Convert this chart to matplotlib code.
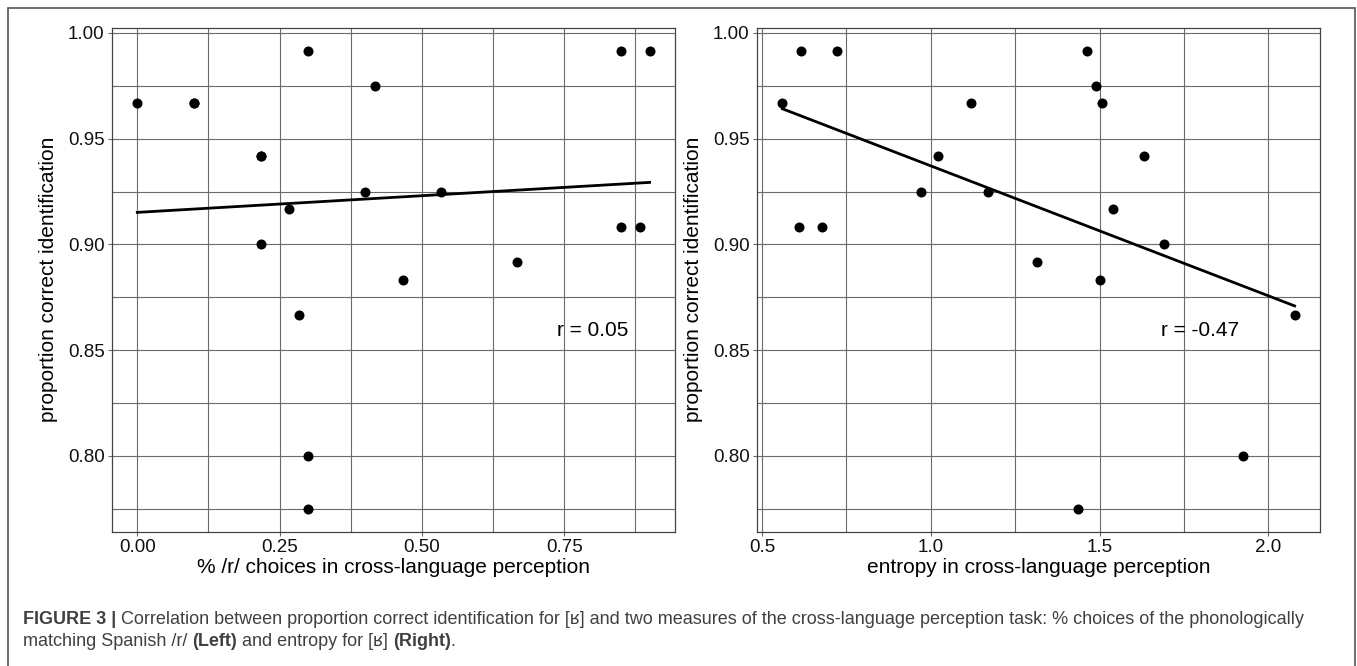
import numpy as np
import matplotlib
matplotlib.use('Agg')
import matplotlib.pyplot as plt
from matplotlib.ticker import MultipleLocator, FormatStrFormatter
from matplotlib.patches import Rectangle

plt.rcParams['font.family'] = ['Liberation Sans', 'DejaVu Sans']

# proportion correct identification vs % /r/ choices (left panel)
pct_r = [0.0, 0.1, 0.1, 0.2167, 0.2167, 0.2167, 0.2667, 0.2833, 0.3, 0.3,
         0.3, 0.4, 0.4167, 0.4667, 0.5333, 0.6667, 0.85, 0.9, 0.85, 0.8833]
correct_left = [0.9667, 0.9667, 0.9667, 0.9417, 0.9417, 0.9, 0.9167, 0.8667, 0.9917, 0.8,
                0.775, 0.925, 0.975, 0.8833, 0.925, 0.8917, 0.9917, 0.9917, 0.9083, 0.9083]

# proportion correct identification vs entropy (right panel)
entropy = [0.56, 0.614, 0.723, 0.609, 0.679, 0.97, 1.022, 1.12, 1.169, 1.314,
           1.436, 1.462, 1.489, 1.506, 1.501, 1.541, 1.632, 1.69, 1.925, 2.078]
correct_right = [0.9667, 0.9917, 0.9917, 0.9083, 0.9083, 0.925, 0.9417, 0.9667, 0.925, 0.8917,
                 0.775, 0.9917, 0.975, 0.9667, 0.8833, 0.9167, 0.9417, 0.9, 0.8, 0.8667]

r_labels = ["r = 0.05", "r = -0.47"]
r_pos = [(0.80, 0.8595), (1.797, 0.8595)]
x_titles = ["% /r/ choices in cross-language perception", "entropy in cross-language perception"]
y_title = "proportion correct identification"

GRID = '#6a6a6a'
TXT = '#111111'


def expand(vals, frac=0.05):
    lo, hi = min(vals), max(vals)
    pad = (hi - lo) * frac
    return lo - pad, hi + pad


fig = plt.figure(figsize=(13.57, 6.66), dpi=100)
fig.patch.set_facecolor('white')

ylim = expand(correct_left + correct_right)
panels = [
    ([0.0823, 0.2017, 0.4153, 0.7568], pct_r, correct_left, 0.25, 0.125, '%.2f'),
    ([0.5576, 0.2017, 0.4153, 0.7568], entropy, correct_right, 0.5, 0.25, '%.1f'),
]

for i, (rect, xs, ys, major, minor, fmt) in enumerate(panels):
    ax = fig.add_axes(rect)
    ax.scatter(xs, ys, s=52, color='black', zorder=3, linewidths=0)

    coef = np.polyfit(xs, ys, 1)
    xl = np.array([min(xs), max(xs)])
    ax.plot(xl, np.polyval(coef, xl), color='black', lw=2.0, zorder=4)

    ax.set_xlim(*expand(xs))
    ax.set_ylim(*ylim)
    ax.xaxis.set_major_locator(MultipleLocator(major))
    ax.xaxis.set_minor_locator(MultipleLocator(minor))
    ax.yaxis.set_major_locator(MultipleLocator(0.05))
    ax.yaxis.set_minor_locator(MultipleLocator(0.025))
    ax.xaxis.set_major_formatter(FormatStrFormatter(fmt))
    ax.yaxis.set_major_formatter(FormatStrFormatter('%.2f'))

    ax.grid(which='both', color=GRID, lw=0.8, zorder=0)
    ax.set_axisbelow(True)
    ax.tick_params(which='major', length=3, width=0.8, color=GRID,
                   labelsize=13.5, labelcolor=TXT, pad=2)
    ax.tick_params(which='minor', length=0)
    for sp in ax.spines.values():
        sp.set_color('#444444')
        sp.set_linewidth(0.9)

    ax.set_xlabel(x_titles[i], fontsize=15, color='black', labelpad=2)
    ax.set_ylabel(y_title, fontsize=15, color='black', labelpad=7)
    ax.text(r_pos[i][0], r_pos[i][1], r_labels[i], fontsize=15,
            ha='center', va='center', color='black')

# outer frame
fig.patches.append(Rectangle((8 / 1357, -0.02), 1347 / 1357, 1 - 8 / 666 + 0.02,
                             transform=fig.transFigure, fill=False,
                             edgecolor='#555555', lw=1.2))

# caption with mixed weights
renderer = fig.canvas.get_renderer()
CAP = '#404040'
cap_size = 13


def text_width(s, weight):
    t = fig.text(0, 0, s, fontsize=cap_size, weight=weight)
    w = t.get_window_extent(renderer).width
    t.remove()
    return w


space_w = text_width('x x', 'normal') - text_width('xx', 'normal')


def draw_runs(x_px, y_px, runs):
    for s, weight, gap in runs:
        if gap:
            x_px += space_w
        t = fig.text(x_px / 1357, 1 - y_px / 666, s, fontsize=cap_size,
                     weight=weight, color=CAP, va='center', ha='left')
        x_px += t.get_window_extent(renderer).width


draw_runs(23, 619, [
    ("FIGURE 3 |", 'bold', False),
    ("Correlation between proportion correct identification for [ʁ] and two measures "
     "of the cross-language perception task: % choices of the phonologically", 'normal', True),
])
draw_runs(23, 641, [
    ("matching Spanish /r/", 'normal', False),
    ("(Left)", 'bold', True),
    ("and entropy for [ʁ]", 'normal', True),
    ("(Right)", 'bold', True),
    (".", 'normal', False),
])

fig.savefig('out.png', dpi=100, facecolor='white')
